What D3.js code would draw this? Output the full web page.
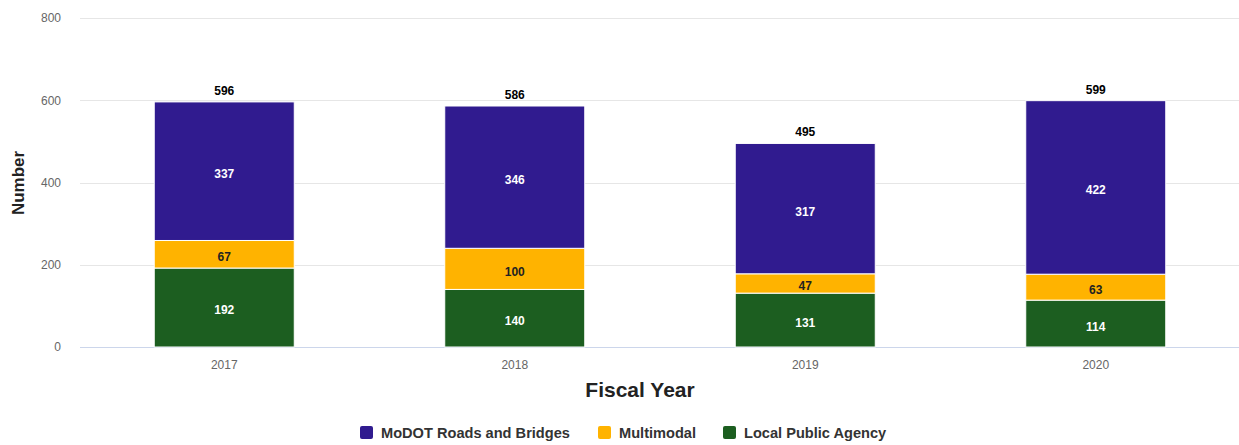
<!DOCTYPE html>
<html><head><meta charset="utf-8">
<script src="https://cdn.jsdelivr.net/npm/d3@7"></script>
<style>body{margin:0;background:#fff;font-family:"Liberation Sans",Arial,sans-serif;}</style>
</head><body><svg id="c" width="1239" height="445"></svg>
<script>
const years = ["2017","2018","2019","2020"];
const seriesNames = ["Local Public Agency","Multimodal","MoDOT Roads and Bridges"];
const localPublicAgency = [192,140,131,114];
const multimodal = [67,100,47,63];
const modotRoads = [337,346,317,422];
const totals = [596,586,495,599];
const yTicks = [0,200,400,600,800];
const colors = {"MoDOT Roads and Bridges":"#301b8f","Multimodal":"#ffb300","Local Public Agency":"#1c5e20"};
const labelColors = {"MoDOT Roads and Bridges":"#fff","Multimodal":"#222","Local Public Agency":"#fff"};
const legendOrder = ["MoDOT Roads and Bridges","Multimodal","Local Public Agency"];

const svg = d3.select("#c");
const x = d3.scaleBand().domain(years).range([79,1241]).paddingInner(0.518).paddingOuter(0.259);
const y = d3.scaleLinear().domain([0,800]).range([347,18]);

const rows = years.map((yr,i)=>({year:yr,"Local Public Agency":localPublicAgency[i],"Multimodal":multimodal[i],"MoDOT Roads and Bridges":modotRoads[i],total:totals[i]}));
const stack = d3.stack().keys(seriesNames)(rows);

// grid
svg.append("g").selectAll("line").data(yTicks.filter(d=>d>0)).join("line")
 .attr("x1",80).attr("x2",1239).attr("y1",d=>Math.round(y(d))+0.5).attr("y2",d=>Math.round(y(d))+0.5)
 .attr("stroke","#e6e6e6").attr("stroke-width",1);
svg.append("line").attr("x1",80).attr("x2",1239).attr("y1",347.5).attr("y2",347.5).attr("stroke","#ccd6eb");

// y axis labels
const yAxis = d3.axisLeft(y).tickValues(yTicks).tickSize(0).tickPadding(0);
const ga = svg.append("g").attr("transform","translate(61,0)").call(yAxis);
ga.select(".domain").remove();
ga.selectAll("text").attr("fill","#666").style("font-size","12px").style("font-family","Liberation Sans, Arial, sans-serif").attr("dy","0.32em");

// x axis labels
const xAxis = d3.axisBottom(x).tickSize(0).tickPadding(0);
const gx = svg.append("g").attr("transform","translate(0,360)").call(xAxis);
gx.select(".domain").remove();
gx.selectAll("text").attr("fill","#666").style("font-size","12px").style("font-family","Liberation Sans, Arial, sans-serif");

// bars
const gs = svg.append("g").selectAll("g").data(stack).join("g");
gs.selectAll("rect").data(s=>s.map(d=>({d,key:s.key}))).join("rect")
 .attr("x",o=>x(o.d.data.year)).attr("width",x.bandwidth())
 .attr("y",o=>y(o.d[1])).attr("height",o=>y(o.d[0])-y(o.d[1]))
 .attr("fill",o=>colors[o.key]).attr("stroke","#fff").attr("stroke-width",1);
gs.selectAll("text").data(s=>s.map(d=>({d,key:s.key}))).join("text")
 .attr("x",o=>x(o.d.data.year)+x.bandwidth()/2).attr("y",o=>(y(o.d[0])+y(o.d[1]))/2)
 .attr("dy","0.58em").attr("text-anchor","middle")
 .attr("fill",o=>labelColors[o.key]).style("font-size","12px").style("font-weight","bold")
 .text(o=>o.d.data[o.key]);

// totals
svg.append("g").selectAll("text").data(rows).join("text")
 .attr("x",d=>x(d.year)+x.bandwidth()/2).attr("y",d=>y(d.total)-7)
 .attr("text-anchor","middle").attr("fill","#000").style("font-size","12px").style("font-weight","bold")
 .text(d=>d.total);

// axis titles
svg.append("text").attr("transform","translate(24,183) rotate(-90)").attr("text-anchor","middle")
 .style("font-size","17px").style("font-weight","bold").attr("fill","#222").text("Number");
svg.append("text").attr("x",640).attr("y",397).attr("text-anchor","middle")
 .style("font-size","21px").style("font-weight","bold").attr("fill","#222").text("Fiscal Year");

// legend
const legX = [360,598,723];
const lg = svg.append("g").selectAll("g").data(legendOrder).join("g")
 .attr("transform",(d,i)=>`translate(${legX[i]},426)`);
lg.append("rect").attr("width",13).attr("height",13).attr("rx",2).attr("fill",d=>colors[d]);
lg.append("text").attr("x",21).attr("y",12).style("font-size","14.6px").style("font-weight","bold").attr("fill","#333").text(d=>d);
</script></body></html>
